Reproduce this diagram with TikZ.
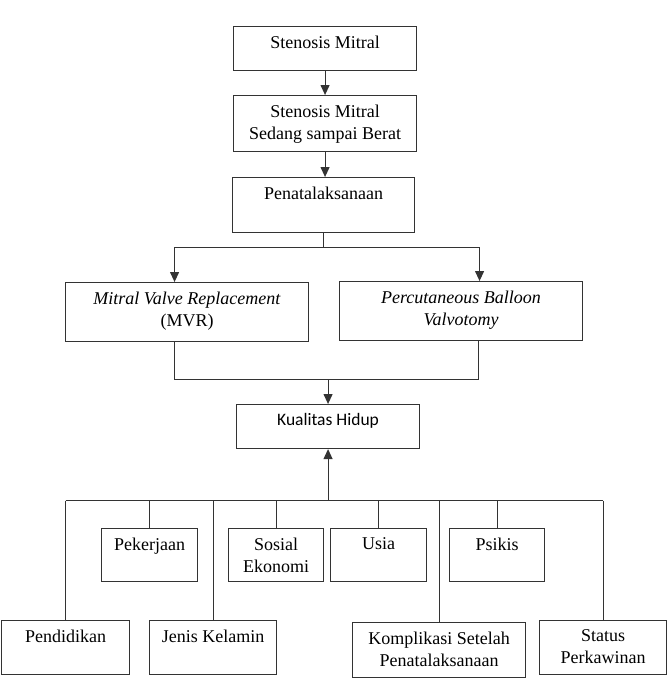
\documentclass[tikz,border=0pt]{standalone}
\usepackage{fontspec}
\setmainfont{Liberation Serif}
\newfontfamily\calibfont{Carlito}
\usetikzlibrary{arrows.meta}
\newcommand{\bxt}[3]{\parbox[t][#2][t]{#1}{\centering\vspace*{9pt}#3\par}}
\begin{document}
\begin{tikzpicture}[x=1pt,y=-1pt,
  bx/.style={draw=black!80, line width=1.1pt, inner sep=0pt, anchor=north west,
    font=\fontsize{18}{22}\selectfont},
  ln/.style={draw=black!80, line width=1.1pt},
  arr/.style={ln, -{Triangle[length=10pt,width=9pt]}}]
\useasboundingbox (0,0) rectangle (667,685);
% top chain
\node[bx] (b1) at (233,26) {\bxt{183pt}{44pt}{Stenosis Mitral}};
\node[bx] (b2) at (233,95) {\bxt{183pt}{56pt}{Stenosis Mitral\\Sedang sampai Berat}};
\node[bx] (b3) at (232,177) {\bxt{182pt}{55pt}{Penatalaksanaan}};
\node[bx] (mvr) at (65,282) {\bxt{243pt}{59pt}{\textit{Mitral Valve Replacement}\\(MVR)}};
\node[bx] (pbv) at (339,281) {\bxt{243pt}{59pt}{\textit{Percutaneous Balloon\\Valvotomy}}};
\node[bx, font=\calibfont\fontsize{17.5}{21}\selectfont] (kh) at (236,404) {\bxt{183pt}{44pt}{Kualitas Hidup}};
% factors
\node[bx] (pek) at (101,528) {\bxt{96pt}{53pt}{Pekerjaan}};
\node[bx] (sos) at (228,528) {\bxt{95pt}{53pt}{Sosial\\Ekonomi}};
\node[bx] (usia) at (330,528) {\bxt{96pt}{53pt}{Usia}};
\node[bx] (psi) at (449,528) {\bxt{95pt}{53pt}{Psikis}};
\node[bx] (pen) at (1,620) {\bxt{128pt}{54pt}{Pendidikan}};
\node[bx] (jk) at (149,620) {\bxt{127pt}{54pt}{Jenis Kelamin}};
\node[bx] (kom) at (352,622) {\bxt{173pt}{55pt}{Komplikasi Setelah\\Penatalaksanaan}};
\node[bx] (sta) at (539,620) {\bxt{127pt}{54pt}{Status\\Perkawinan}};
% connectors top
\draw[arr] (b1.south) -- (b1.south |- b2.north);
\draw[arr] (b2.south) -- (b2.south |- b3.north);
\path (b3.south) ++(0,14) coordinate (j1);
\draw[ln] (b3.south) -- (j1);
\draw[arr] (j1) -| ([xshift=-12.5pt]mvr.north);
\draw[arr] (j1) -| ([xshift=18.5pt]pbv.north);
\path ([xshift=-12.5pt]mvr.south) ++(0,37) coordinate (j2);
\draw[ln] ([xshift=-12.5pt]mvr.south) -- (j2) -| ([xshift=17.5pt]pbv.south);
\draw[arr] (j2 -| kh.north) -- (kh.north);
% bottom bus
\coordinate (bus) at (kh.south |- 0,500.5);
\draw[arr] (bus) -- (kh.south);
\draw[ln] (pen.north |- bus) -- (sta.north |- bus);
\foreach \n in {pen,pek,jk,sos,usia,kom,psi,sta}
  \draw[ln] (\n.north |- bus) -- (\n.north);
\end{tikzpicture}
\end{document}
